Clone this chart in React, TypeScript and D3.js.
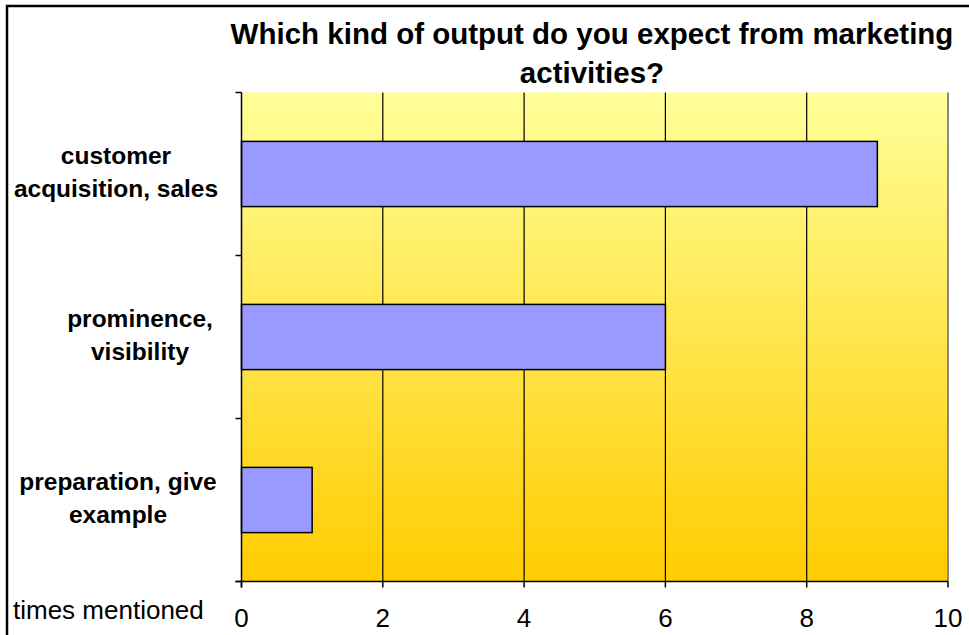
import React from "react";
import * as d3 from "d3";

const categories = [
  ["customer", "acquisition, sales"],
  ["prominence,", "visibility"],
  ["preparation, give", "example"],
];
const values = [9, 6, 1];
const xTicks = [0, 2, 4, 6, 8, 10];
const titleLines = ["Which kind of output do you expect from marketing", "activities?"];
const axisTitle = "times mentioned";

// layout (not data): horizontal centre of each category label
const labelCenterX = [116, 140, 118];

export default function App() {
  const W = 969, H = 635;
  const left = 241.5, right = 948, top = 92.5, bottom = 581.5;
  const x = d3.scaleLinear().domain([0, 10]).range([left, right]);
  const y = d3.scaleBand<number>().domain(d3.range(categories.length)).range([top, bottom]).paddingInner(0.6).paddingOuter(0.3);
  const bandStep = (bottom - top) / categories.length;
  const font = "Arial, 'Liberation Sans', Helvetica, sans-serif";
  return (
    <svg width={W} height={H} style={{ position: "absolute", left: 0, top: 0, background: "#fff" }} fontFamily={font}>
      <defs>
        <linearGradient id="bg" x1="0" y1="0" x2="0" y2="1">
          <stop offset="0" stopColor="#FFFF99" />
          <stop offset="1" stopColor="#FFCC00" />
        </linearGradient>
      </defs>
      <rect x={7} y={6} width={W + 20} height={H + 20} fill="#fff" stroke="#000" strokeWidth={2.5} />
      {titleLines.map((t, i) => (
        <text key={i} x={592} y={44 + i * 39} textAnchor="middle" fontWeight="bold" fontSize={29.5} fill="#000">{t}</text>
      ))}
      <rect x={left} y={top} width={right - left} height={bottom - top} fill="url(#bg)" />
      <line x1={right} x2={right} y1={top} y2={bottom} stroke="#888" strokeWidth={2} />
      {xTicks.slice(1, -1).map((t) => (
        <line key={t} x1={x(t)} x2={x(t)} y1={top} y2={bottom} stroke="#000" strokeWidth={1.2} />
      ))}
      {values.map((v, i) => (
        <rect key={i} x={x(0)} y={y(i)!} width={x(v) - x(0)} height={y.bandwidth()} fill="#9999FF" stroke="#000" strokeWidth={1.5} />
      ))}
      <line x1={left} x2={left} y1={top} y2={bottom + 6} stroke="#000" strokeWidth={1.5} />
      <line x1={left - 6} x2={right} y1={bottom} y2={bottom} stroke="#000" strokeWidth={1.5} />
      {d3.range(categories.length + 1).map((i) => (
        <line key={i} x1={left - 6} x2={left} y1={top + i * bandStep} y2={top + i * bandStep} stroke="#000" strokeWidth={1.5} />
      ))}
      {xTicks.map((t) => (
        <g key={t}>
          <line x1={x(t)} x2={x(t)} y1={bottom} y2={bottom + 6} stroke="#000" strokeWidth={1.5} />
          <text x={x(t)} y={627} textAnchor="middle" fontSize={26} fill="#000">{t}</text>
        </g>
      ))}
      {categories.map((lines, i) => {
        const cy = y(i)! + y.bandwidth() / 2;
        return lines.map((ln, j) => (
          <text key={i + "-" + j} x={labelCenterX[i]} y={cy - 10 + j * 33} textAnchor="middle" fontWeight="bold" fontSize={24.5} fill="#000">{ln}</text>
        ));
      })}
      <text x={13} y={619} fontSize={26} fill="#000">{axisTitle}</text>
    </svg>
  );
}
